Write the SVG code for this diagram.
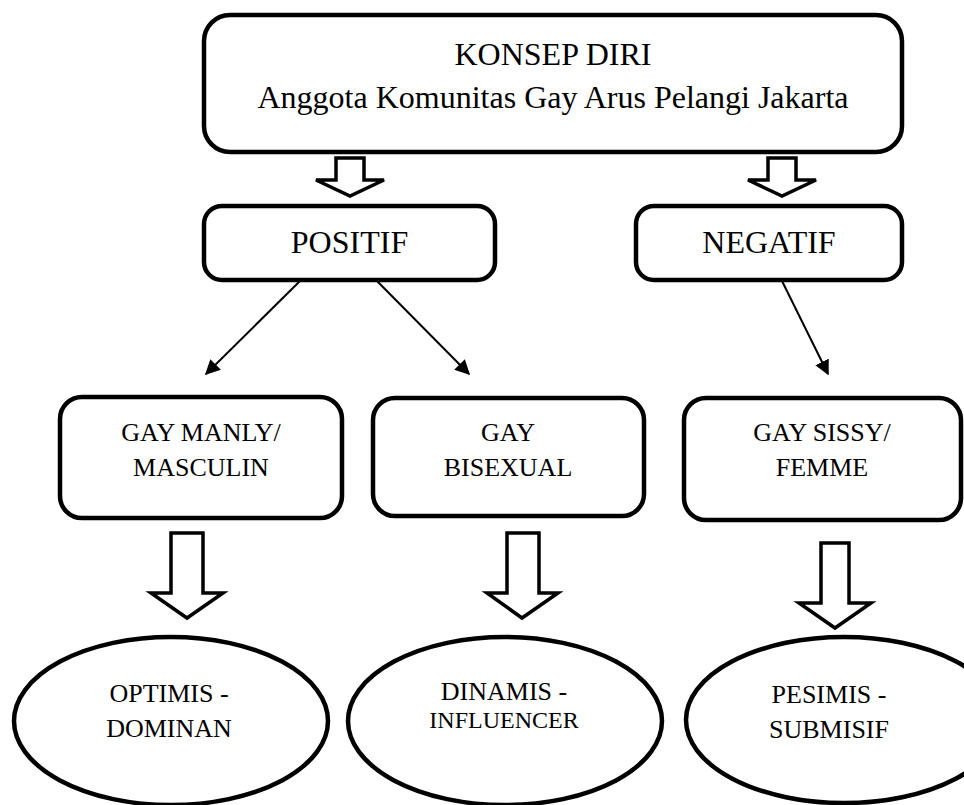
<svg xmlns="http://www.w3.org/2000/svg" width="964" height="805" viewBox="0 0 964 805">
<style>
.box{fill:#fff;stroke:#000;stroke-width:4.5}
.blk{fill:#fff;stroke:#000;stroke-width:3.5;stroke-linejoin:miter}
.ln{stroke:#000;stroke-width:2;fill:none}
text{font-family:"Liberation Serif","Times New Roman",serif;fill:#000;text-anchor:middle}
.t32{font-size:32px}
.t26{font-size:26px}
.t24{font-size:24px}
</style>
<defs>
<marker id="ah" viewBox="0 0 10 10" refX="9" refY="5" markerWidth="7.5" markerHeight="7.5" markerUnits="strokeWidth" orient="auto">
<path d="M0,0 L10,5 L0,10 z" fill="#000"/>
</marker>
</defs>
<rect width="964" height="805" fill="#fff"/>
<g id="konsep">
<rect class="box" x="204" y="15" width="698" height="137" rx="26"/>
<text class="t32" x="553" y="65">KONSEP DIRI</text>
<text class="t32" x="553" y="108">Anggota Komunitas Gay Arus Pelangi Jakarta</text>
</g>
<g id="positif">
<rect class="box" x="204" y="206" width="291" height="74" rx="18"/>
<text class="t32" x="349.5" y="253">POSITIF</text>
</g>
<g id="negatif">
<rect class="box" x="636" y="206" width="266" height="74" rx="18"/>
<text class="t32" x="769" y="253">NEGATIF</text>
</g>
<g id="manly">
<rect class="box" x="60" y="397" width="282" height="121" rx="22"/>
<text class="t26" x="201" y="441">GAY MANLY/</text>
<text class="t26" x="201" y="476">MASCULIN</text>
</g>
<g id="bisexual">
<rect class="box" x="373" y="398" width="271" height="118" rx="22"/>
<text class="t26" x="508" y="441">GAY</text>
<text class="t26" x="508" y="476">BISEXUAL</text>
</g>
<g id="sissy">
<rect class="box" x="684" y="398" width="277" height="122" rx="22"/>
<text class="t26" x="822" y="441">GAY SISSY/</text>
<text class="t26" x="822" y="476">FEMME</text>
</g>
<g id="optimis">
<ellipse class="box" cx="171" cy="721" rx="157" ry="84"/>
<text class="t26" x="169" y="702">OPTIMIS -</text>
<text class="t26" x="169" y="737">DOMINAN</text>
</g>
<g id="dinamis">
<ellipse class="box" cx="505" cy="721" rx="157" ry="84"/>
<text class="t26" x="504" y="700">DINAMIS -</text>
<text class="t24" x="504" y="728">INFLUENCER</text>
</g>
<g id="pesimis">
<ellipse class="box" cx="844" cy="720" rx="158" ry="83"/>
<text class="t26" x="829" y="703">PESIMIS -</text>
<text class="t26" x="829" y="738">SUBMISIF</text>
</g>
<g id="connectors">
<polygon class="blk" points="336,158 364,158 364,180 384,180 350,196 316,180 336,180"/>
<polygon class="blk" points="768,158 796,158 796,180 816,180 782,196 748,180 768,180"/>
<line class="ln" x1="300" y1="281" x2="206" y2="374" marker-end="url(#ah)"/>
<line class="ln" x1="377" y1="281" x2="469" y2="374" marker-end="url(#ah)"/>
<line class="ln" x1="782" y1="281" x2="828" y2="374" marker-end="url(#ah)"/>
<polygon class="blk" points="171,533 203,533 203,593 223,593 187,618 151,593 171,593"/>
<polygon class="blk" points="507,533 539,533 539,593 558,593 522,618 487,593 507,593"/>
<polygon class="blk" points="821,543 849,543 849,603 871,603 835,628 799,603 821,603"/>
</g>
</svg>
